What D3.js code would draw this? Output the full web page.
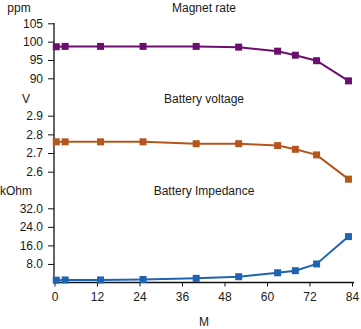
<!DOCTYPE html>
<html>
<head>
<meta charset="utf-8">
<script src="https://cdn.jsdelivr.net/npm/d3@7"></script>
<style>
  body { margin: 0; background: #fff; }
  svg text { font-family: "Liberation Sans", Arial, sans-serif; fill: #1a1a1a; }
</style>
</head>
<body>
<svg id="chart"></svg>
<script>
// months of follow-up
const months = [0.5, 3, 13, 25, 40, 52, 63, 68, 74, 83];
const magnetRate = [98.6, 98.7, 98.7, 98.7, 98.7, 98.5, 97.4, 96.3, 94.8, 89.3];
const batteryVoltage = [2.76, 2.76, 2.76, 2.76, 2.75, 2.75, 2.74, 2.72, 2.69, 2.56];
const batteryImpedance = [1.0, 1.1, 1.1, 1.3, 1.8, 2.5, 4.2, 5.1, 8.0, 19.8];

const xTicks = [0, 12, 24, 36, 48, 60, 72, 84];
const magnetTicks = [90, 95, 100, 105];
const voltageTicks = [2.6, 2.7, 2.8, 2.9];
const impedanceTicks = [8, 16, 24, 32];

const svgWidth = 361;
const svgHeight = 329;

const svg = d3.select('#chart')
  .attr('width', svgWidth)
  .attr('height', svgHeight);

const xScale = d3.scaleLinear().domain([0, 84]).range([54.5, 352]);

const panels = [
  { name: 'Magnet rate', unit: 'ppm', values: magnetRate, ticks: magnetTicks,
    domain: [90, 105], range: [78.3, 23.3], fmt: d3.format('d'), color: '#6b0f6f',
    titleY: 12, unitX: 19 },
  { name: 'Battery voltage', unit: 'V', values: batteryVoltage, ticks: voltageTicks,
    domain: [2.6, 2.9], range: [171.7, 115.7], fmt: d3.format('.1f'), color: '#b5561d',
    titleY: 103, unitX: 26 },
  { name: 'Battery Impedance', unit: 'kOhm', values: batteryImpedance, ticks: impedanceTicks,
    domain: [0, 32], range: [282.5, 208.3], fmt: d3.format('.1f'), color: '#1f63b3',
    titleY: 195, unitX: 16 }
];

// shared vertical axis line
svg.append('line')
  .attr('x1', 54).attr('x2', 54)
  .attr('y1', 23).attr('y2', 282.5)
  .attr('stroke', '#111').attr('stroke-width', 1.3);

// x axis
const xAxis = d3.axisBottom(xScale)
  .tickValues(xTicks)
  .tickFormat(d3.format('d'))
  .tickSizeOuter(0)
  .tickSize(4)
  .tickPadding(6);

const gx = svg.append('g')
  .attr('transform', 'translate(0,282.5)')
  .call(xAxis);
gx.select('.domain').attr('d', 'M54,0H354').attr('stroke', '#111').attr('stroke-width', 1.3);
gx.selectAll('.tick line').attr('stroke', '#111');
gx.selectAll('.tick text').style('font-size', '12px');

svg.append('text')
  .attr('x', 204).attr('y', 326)
  .attr('text-anchor', 'middle')
  .style('font-size', '12px')
  .text('M');

panels.forEach(p => {
  const y = d3.scaleLinear().domain(p.domain).range(p.range);

  const yAxis = d3.axisLeft(y)
    .tickValues(p.ticks)
    .tickFormat(p.fmt)
    .tickSize(6)
    .tickPadding(5);

  const gy = svg.append('g')
    .attr('transform', 'translate(54,0)')
    .call(yAxis);
  gy.select('.domain').remove();
  gy.selectAll('.tick line').attr('stroke', '#111');
  gy.selectAll('.tick text').style('font-size', '12px');

  svg.append('text')
    .attr('x', p.unitX).attr('y', p.titleY)
    .attr('text-anchor', 'middle')
    .style('font-size', '12px')
    .text(p.unit);

  svg.append('text')
    .attr('x', 204).attr('y', p.titleY)
    .attr('text-anchor', 'middle')
    .style('font-size', '12px')
    .text(p.name);

  const pts = months.map((m, i) => [m, p.values[i]]);

  svg.append('path')
    .datum(pts)
    .attr('fill', 'none')
    .attr('stroke', p.color)
    .attr('stroke-width', 2)
    .attr('d', d3.line().x(d => xScale(d[0])).y(d => y(d[1])));

  svg.selectAll(null)
    .data(pts)
    .enter().append('rect')
    .attr('x', d => xScale(d[0]) - 3.5)
    .attr('y', d => y(d[1]) - 3.5)
    .attr('width', 7)
    .attr('height', 7)
    .attr('fill', p.color);
});
</script>
</body>
</html>
